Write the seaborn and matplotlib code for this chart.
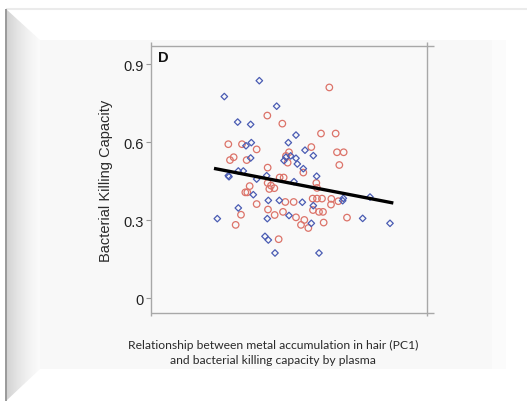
import numpy as np
import pandas as pd
import matplotlib
matplotlib.use("Agg")
import matplotlib.pyplot as plt
from matplotlib.patches import Polygon, Rectangle
import seaborn as sns

# ---- data ----
blue_x = [-0.92, -1.97, -0.40, -1.57, -1.18, 0.18, -1.16, -1.32, -0.05, 0.45,
          0.70, -1.18, -0.12, -0.18, 0.02, 0.18, 0.22, 0.40, -1.55, -1.40,
          -1.85, -1.83, -0.70, -1.00, 0.12, 0.80, -1.10, -0.65, -0.32, 0.37,
          0.70, 1.60, 1.58, 2.40, -1.55, -2.18, -0.68, -0.03, 0.64, 2.18,
          3.00, -0.75, -0.65, -0.45, 0.87]
blue_y = [0.836, 0.775, 0.738, 0.677, 0.668, 0.627, 0.598, 0.586, 0.598, 0.569,
          0.548, 0.539, 0.542, 0.529, 0.547, 0.538, 0.516, 0.498, 0.489, 0.489,
          0.471, 0.467, 0.471, 0.458, 0.448, 0.469, 0.398, 0.376, 0.376, 0.369,
          0.356, 0.384, 0.375, 0.389, 0.347, 0.306, 0.306, 0.318, 0.288, 0.307,
          0.288, 0.238, 0.224, 0.174, 0.174]

red_x = [1.18, -0.68, -0.23, 0.93, 1.37, -1.85, -1.44, -1.00, 0.64, -1.69,
         -1.80, -1.30, -0.03, 1.41, 1.61, -0.12, -0.07, 1.48, -0.67, 0.40,
         -0.31, -0.19, -0.67, -0.57, -1.21, -0.62, -0.47, 0.79, 0.81, -1.34,
         -1.28, 0.68, 0.81, 0.96, 1.24, 1.23, 1.45, -1.00, -0.14, 0.11,
         -0.66, -0.21, 0.69, 0.87, 0.99, -1.47, -0.46, 0.18, 0.43, 1.71,
         1.01, -1.63, 0.33, 0.55, -0.34]
red_y = [0.810, 0.702, 0.671, 0.633, 0.633, 0.592, 0.592, 0.572, 0.581, 0.542,
         0.531, 0.531, 0.561, 0.561, 0.561, 0.547, 0.521, 0.512, 0.502, 0.483,
         0.464, 0.464, 0.443, 0.433, 0.431, 0.420, 0.423, 0.443, 0.424, 0.407,
         0.407, 0.383, 0.383, 0.383, 0.382, 0.360, 0.373, 0.362, 0.370, 0.370,
         0.341, 0.332, 0.339, 0.332, 0.332, 0.321, 0.320, 0.311, 0.301, 0.310,
         0.291, 0.282, 0.282, 0.270, 0.227]

fit_x = [-2.28, 3.10]
fit_y = [0.499, 0.366]

y_ticks = [0, 0.3, 0.6, 0.9]
y_tick_labels = ["0", "0.3", "0.6", "0.9"]
y_label = "Bacterial Killing Capacity"
panel_label = "D"
caption = "Relationship between metal accumulation in hair (PC1)\nand bacterial killing capacity by plasma"

BLUE = "#4a5cb3"
RED = "#dc7369"

sns.set_style("white")
plt.rcParams["font.family"] = ["Liberation Sans", "DejaVu Sans"]

W, H = 527, 402
fig = plt.figure(figsize=(W / 100, H / 100), dpi=100)
fig.patch.set_facecolor("white")

# ---- decorative frame (background axes in pixel coordinates) ----
bg = fig.add_axes([0, 0, 1, 1], zorder=-5)
bg.set_xlim(0, W)
bg.set_ylim(H, 0)
bg.axis("off")
bg.add_patch(Rectangle((40, 41), 466, 329, facecolor="#f8f8f8", edgecolor="none"))
bg.add_patch(Rectangle((492, 41), 14, 329, facecolor="#fbfbfb", edgecolor="none"))
left_bevel = Polygon([(6, 10), (40, 41), (40, 370), (6, 402)], closed=True,
                     facecolor="none", edgecolor="none")
bg.add_patch(left_bevel)
grad = np.linspace(0, 1, 64)[None, :]
im = bg.imshow(grad, extent=(6, 40, 402, 10),
               cmap=matplotlib.colors.LinearSegmentedColormap.from_list(
                   "g", ["#d2d2d2", "#e4e4e4", "#f2f2f2", "#fbfbfb"]),
               aspect="auto", zorder=1, interpolation="bilinear")
im.set_clip_path(left_bevel)
bg.plot([6, W], [10, 10], color="#ebebeb", lw=1.5, solid_capstyle="butt")
bg.plot([6, 6], [10, H], color="#9a9a9a", lw=1.4, solid_capstyle="butt")

# ---- main axes ----
ax = fig.add_axes([0.2865, 0.2189, 0.5231, 0.6634])
ax.set_facecolor("#f9f9f9")

df_blue = pd.DataFrame({"x": blue_x, "y": blue_y})
df_red = pd.DataFrame({"x": red_x, "y": red_y})
df_fit = pd.DataFrame({"x": fit_x, "y": fit_y})

sns.scatterplot(data=df_red, x="x", y="y", ax=ax, marker="o", s=22,
                facecolor="none", edgecolor=RED, linewidth=0.9, zorder=3)
sns.scatterplot(data=df_blue, x="x", y="y", ax=ax, marker="D", s=11,
                facecolor="none", edgecolor=BLUE, linewidth=0.9, zorder=3)
sns.lineplot(data=df_fit, x="x", y="y", ax=ax, color="black", linewidth=2.4,
             zorder=4, solid_capstyle="butt")

ax.set_xlim(-4.17, 4.10)
ax.set_ylim(-0.0565, 0.968)
ax.set_xticks([])
ax.set_yticks(y_ticks)
ax.set_yticklabels(y_tick_labels)
ax.tick_params(axis="y", length=3.5, width=0.8, color="#999999", pad=2,
               labelsize=10.5, labelcolor="#222222", left=True)
ax.set_xlabel("")
ax.set_ylabel(y_label, fontsize=10.5, color="#2a2a2a", labelpad=7)

for sp in ax.spines.values():
    sp.set_visible(False)
frame_kw = dict(transform=ax.transAxes, clip_on=False, color="#a8a8a8", lw=1.0,
                solid_capstyle="butt")
ax.plot([0, 0], [-0.012, 1.015], **frame_kw)
ax.plot([1, 1], [-0.012, 1.015], **frame_kw)
ax.plot([0, 1.025], [1, 1], **frame_kw)
ax.plot([0, 1.025], [0, 0], **frame_kw)

ax.text(0.025, 0.985, panel_label, transform=ax.transAxes, ha="left", va="top",
        fontsize=10.5, fontweight="bold", color="#111111")

fig.text(273 / W, 1 - 353 / H, caption, ha="center", va="center",
         fontsize=8.7, color="#2a2a2a", family=["Lato", "DejaVu Sans"],
         linespacing=1.35)

fig.savefig("out.png", dpi=100, facecolor=fig.get_facecolor())
